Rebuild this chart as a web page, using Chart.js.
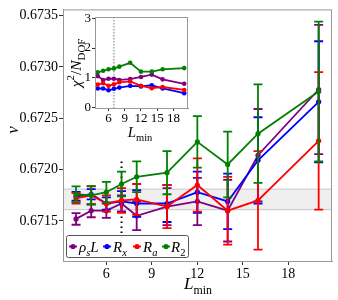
<!DOCTYPE html>
<html>
<head>
<meta charset="utf-8">
<script src="https://cdn.jsdelivr.net/npm/chart.js@4/dist/chart.umd.min.js"></script>
<style>
  body { margin: 0; background: #fff; }
  #wrap { position: relative; width: 338px; height: 300px; }
  #inset { position: absolute; left: 66px; top: 8px; }
</style>
</head>
<body>
<div id="wrap">
  <canvas id="main" width="338" height="300"></canvas>
  <canvas id="inset" width="126" height="138"></canvas>
</div>
<script>
  // L_min values shared by all series
  const lmin = [4, 5, 6, 7, 8, 10, 12, 14, 16, 20];

  // nu estimates and error bars
  const nuRhoL  = [0.67152, 0.67160, 0.67160, 0.67167, 0.67155, 0.67164, 0.67169, 0.67160, 0.67214, 0.67278];
  const errRhoL = [0.000057, 0.000064, 0.00007, 0.00008, 0.00014, 0.00018, 0.00023, 0.0003, 0.00045, 0.00063];
  const nuRx    = [0.67174, 0.67176, 0.67167, 0.67169, 0.67167, 0.67167, 0.67178, 0.67169, 0.67209, 0.67266];
  const errRx   = [0.000043, 0.00005, 0.00006, 0.0001, 0.00013, 0.00018, 0.0002, 0.00027, 0.00042, 0.00059];
  const nuRa    = [0.67172, 0.67175, 0.67167, 0.67170, 0.67171, 0.67164, 0.67185, 0.67160, 0.67170, 0.67228];
  const errRa   = [0.00005, 0.000088, 0.00008, 0.00012, 0.00015, 0.00021, 0.00026, 0.00033, 0.00048, 0.00067];
  const nuR2    = [0.67176, 0.67175, 0.67178, 0.67186, 0.67193, 0.67197, 0.67227, 0.67205, 0.67235, 0.67276];
  const errR2   = [0.000077, 0.00009, 0.0001, 0.00012, 0.00015, 0.00021, 0.00025, 0.00032, 0.00048, 0.00068];

  // chi^2 / N_DOF for the inset
  const chiRhoL = [1.05, 0.92, 0.96, 0.96, 0.92, 0.95, 1.02, 1.10, 0.94, 0.79];
  const chiRx   = [0.63, 0.63, 0.57, 0.62, 0.66, 0.72, 0.70, 0.74, 0.63, 0.47];
  const chiRa   = [0.76, 0.81, 0.72, 0.77, 0.84, 0.87, 0.72, 0.64, 0.68, 0.58];
  const chiR2   = [1.18, 1.23, 1.28, 1.31, 1.37, 1.50, 1.20, 1.20, 1.28, 1.32];

  // tick labels and reference markers
  const mainXTicks = [6, 9, 12, 15, 18];
  const mainYTicks = [0.6715, 0.6720, 0.6725, 0.6730, 0.6735];
  const insetXTicks = [6, 9, 12, 15, 18];
  const insetYTicks = [0, 1, 2, 3];
  const bandLow = 0.67161, bandHigh = 0.67181;
  const cutL = 7, cutTop = 0.67208;

  const colors = { rho: '#800080', rx: '#0000ff', ra: '#ff0000', r2: '#008000' };
  const FONT = '"Liberation Serif", "DejaVu Serif", serif';

  function pts(ys) { return lmin.map((x, i) => ({ x: x, y: ys[i] })); }

  // text with sub/superscripts: parts = [{t, it, sub, sup}]
  function partFont(p, size) {
    const s = (p.sub || p.sup) ? size * 0.7 : size;
    return (p.it ? 'italic ' : '') + s + 'px ' + FONT;
  }
  function richWidth(ctx, parts, size) {
    let w = 0;
    parts.forEach(p => { ctx.font = partFont(p, size); w += ctx.measureText(p.t).width; });
    return w;
  }
  function drawRich(ctx, parts, x, y, size, align) {
    const w = richWidth(ctx, parts, size);
    let cx = align === 'left' ? x : x - w / 2;
    ctx.textAlign = 'left';
    ctx.textBaseline = 'alphabetic';
    parts.forEach(p => {
      ctx.font = partFont(p, size);
      let dy = 0;
      if (p.sub) dy = size * 0.28;
      if (p.sup) dy = -size * 0.42;
      ctx.fillText(p.t, cx, y + dy);
      cx += ctx.measureText(p.t).width;
    });
  }

  const seriesMain = [
    { label: 'rho', ys: nuRhoL, err: errRhoL, color: colors.rho, order: 4 },
    { label: 'Rx', ys: nuRx, err: errRx, color: colors.rx, order: 3 },
    { label: 'Ra', ys: nuRa, err: errRa, color: colors.ra, order: 2 },
    { label: 'R2', ys: nuR2, err: errR2, color: colors.r2, order: 1 }
  ];

  const errorBars = {
    id: 'errorBars',
    beforeDatasetDraw(chart, args) {
      const ds = chart.data.datasets[args.index];
      if (!ds.errs) return;
      const ctx = chart.ctx, xs = chart.scales.x, ys = chart.scales.y;
      ctx.save();
      ctx.strokeStyle = ds.borderColor;
      ctx.lineWidth = 1.8;
      ds.data.forEach((p, i) => {
        const px = xs.getPixelForValue(p.x);
        const top = ys.getPixelForValue(p.y + ds.errs[i]);
        const bot = ys.getPixelForValue(p.y - ds.errs[i]);
        ctx.beginPath();
        ctx.moveTo(px, top); ctx.lineTo(px, bot);
        ctx.moveTo(px - 4.5, top); ctx.lineTo(px + 4.5, top);
        ctx.moveTo(px - 4.5, bot); ctx.lineTo(px + 4.5, bot);
        ctx.stroke();
      });
      ctx.restore();
    }
  };

  const mainDecor = {
    id: 'mainDecor',
    beforeDatasetsDraw(chart) {
      const ctx = chart.ctx, a = chart.chartArea, xs = chart.scales.x, ys = chart.scales.y;
      ctx.save();
      const y1 = ys.getPixelForValue(bandHigh), y2 = ys.getPixelForValue(bandLow);
      ctx.fillStyle = '#efefef';
      ctx.fillRect(a.left, y1, a.right - a.left, y2 - y1);
      ctx.strokeStyle = '#c8c8c8';
      ctx.lineWidth = 1;
      ctx.beginPath();
      ctx.moveTo(a.left, y1); ctx.lineTo(a.right, y1);
      ctx.moveTo(a.left, y2); ctx.lineTo(a.right, y2);
      ctx.stroke();
      // dotted L_min cut
      const cx = xs.getPixelForValue(cutL);
      ctx.strokeStyle = '#000';
      ctx.lineWidth = 2;
      ctx.setLineDash([1.5, 3.5]);
      ctx.beginPath();
      ctx.moveTo(cx, ys.getPixelForValue(cutTop)); ctx.lineTo(cx, a.bottom);
      ctx.stroke();
      ctx.restore();
    },
    afterDraw(chart) {
      const ctx = chart.ctx, a = chart.chartArea;
      ctx.save();
      ctx.strokeStyle = '#999';
      ctx.lineWidth = 1;
      ctx.strokeRect(a.left + 0.5, a.top + 0.5, a.right - a.left - 1, a.bottom - a.top);
      ctx.fillStyle = '#000';
      // axis titles
      drawRich(ctx, [{ t: 'L', it: true }, { t: 'min', sub: true }], 198, 289, 17, 'center');
      ctx.save();
      ctx.translate(13, 130);
      ctx.rotate(-Math.PI / 2);
      drawRich(ctx, [{ t: 'ν', it: true }], 0, 5, 17, 'center');
      ctx.restore();
      // legend
      const lx = 66, ly = 235, lw = 122, lh = 22;
      ctx.fillStyle = 'rgba(255,255,255,0.9)';
      ctx.strokeStyle = '#555';
      ctx.beginPath();
      ctx.roundRect(lx + 0.5, ly + 0.5, lw, lh, 2);
      ctx.fill(); ctx.stroke();
      const items = [
        { c: colors.rho, mx: 73, tx: 79, parts: [{ t: 'ρ', it: true }, { t: 's', it: true, sub: true }, { t: 'L', it: true }] },
        { c: colors.rx, mx: 107, tx: 113, parts: [{ t: 'R', it: true }, { t: 'x', it: true, sub: true }] },
        { c: colors.ra, mx: 137, tx: 143, parts: [{ t: 'R', it: true }, { t: 'a', it: true, sub: true }] },
        { c: colors.r2, mx: 166, tx: 171, parts: [{ t: 'R', it: true }, { t: '2', sub: true }] }
      ];
      items.forEach(it => {
        ctx.strokeStyle = it.c; ctx.fillStyle = it.c; ctx.lineWidth = 1.8;
        ctx.beginPath(); ctx.moveTo(it.mx - 4, ly + 11.5); ctx.lineTo(it.mx + 4, ly + 11.5); ctx.stroke();
        ctx.beginPath(); ctx.arc(it.mx, ly + 11.5, 2.6, 0, Math.PI * 2); ctx.fill();
        ctx.fillStyle = '#000';
        drawRich(ctx, it.parts, it.tx, ly + 16.5, 15, 'left');
      });
      ctx.restore();
    }
  };

  new Chart(document.getElementById('main'), {
    type: 'line',
    data: {
      datasets: seriesMain.map(s => ({
        label: s.label,
        data: pts(s.ys),
        errs: s.err,
        borderColor: s.color,
        backgroundColor: s.color,
        borderWidth: 1.8,
        pointRadius: 2.6,
        pointBorderWidth: 0,
        order: s.order,
        tension: 0
      }))
    },
    options: {
      responsive: false,
      animation: false,
      layout: { padding: { top: 5, right: 6, left: 0, bottom: 0 } },
      plugins: { legend: { display: false }, tooltip: { enabled: false } },
      scales: {
        x: {
          type: 'linear', min: 3.14, max: 20.88,
          afterBuildTicks: s => { s.ticks = mainXTicks.map(v => ({ value: v })); },
          afterFit: s => { s.height = 39; },
          ticks: { font: { family: FONT, size: 14 }, color: '#000', padding: 1, maxRotation: 0 },
          grid: { drawOnChartArea: false, tickLength: 4, tickColor: '#333' },
          border: { color: '#999' }
        },
        y: {
          type: 'linear', min: 0.67111, max: 0.67356,
          afterBuildTicks: s => { s.ticks = mainYTicks.map(v => ({ value: v })); },
          afterFit: s => { s.width = 63; },
          ticks: { font: { family: FONT, size: 14 }, color: '#000', padding: 1, callback: v => v.toFixed(4) },
          grid: { drawOnChartArea: false, tickLength: 4, tickColor: '#333' },
          border: { color: '#999' }
        }
      }
    },
    plugins: [errorBars, mainDecor]
  });

  const seriesInset = [
    { ys: chiRhoL, color: colors.rho, order: 4 },
    { ys: chiRx, color: colors.rx, order: 3 },
    { ys: chiRa, color: colors.ra, order: 2 },
    { ys: chiR2, color: colors.r2, order: 1 }
  ];

  const insetDecor = {
    id: 'insetDecor',
    beforeDatasetsDraw(chart) {
      const ctx = chart.ctx, a = chart.chartArea;
      ctx.save();
      ctx.fillStyle = '#fff';
      ctx.fillRect(a.left, a.top, a.right - a.left, a.bottom - a.top);
      const cx = chart.scales.x.getPixelForValue(cutL);
      ctx.strokeStyle = '#777';
      ctx.lineWidth = 1;
      ctx.setLineDash([1.5, 1.5]);
      ctx.beginPath(); ctx.moveTo(cx, a.top); ctx.lineTo(cx, a.bottom); ctx.stroke();
      ctx.restore();
    },
    afterDraw(chart) {
      const ctx = chart.ctx, a = chart.chartArea;
      ctx.save();
      ctx.strokeStyle = '#999';
      ctx.lineWidth = 1;
      ctx.strokeRect(a.left + 0.5, a.top + 0.5, a.right - a.left - 1, a.bottom - a.top);
      ctx.fillStyle = '#000';
      drawRich(ctx, [{ t: 'L', it: true }, { t: 'min', sub: true }], 74, 129, 15, 'center');
      ctx.save();
      ctx.translate(10, 55);
      ctx.rotate(-Math.PI / 2);
      drawRich(ctx, [{ t: 'χ', it: true }, { t: '2', sup: true }, { t: '/' }, { t: 'N', it: true }, { t: 'DOF', sub: true }], 0, 5, 15.5, 'center');
      ctx.restore();
      ctx.restore();
    }
  };

  new Chart(document.getElementById('inset'), {
    type: 'line',
    data: {
      datasets: seriesInset.map(s => ({
        data: pts(s.ys),
        borderColor: s.color,
        backgroundColor: s.color,
        borderWidth: 1.8,
        pointRadius: 2.3,
        pointBorderWidth: 0,
        order: s.order,
        tension: 0
      }))
    },
    options: {
      responsive: false,
      animation: false,
      layout: { padding: { top: 9, right: 4, left: 0, bottom: 0 } },
      plugins: { legend: { display: false }, tooltip: { enabled: false } },
      scales: {
        x: {
          type: 'linear', min: 3.5, max: 20.7,
          afterBuildTicks: s => { s.ticks = insetXTicks.map(v => ({ value: v })); },
          afterFit: s => { s.height = 38; },
          ticks: { font: { family: FONT, size: 13 }, color: '#000', padding: 0, maxRotation: 0, autoSkip: false },
          grid: { drawOnChartArea: false, tickLength: 3, tickColor: '#333' },
          border: { color: '#999' }
        },
        y: {
          type: 'linear', min: -0.03, max: 3.05,
          afterBuildTicks: s => { s.ticks = insetYTicks.map(v => ({ value: v })); },
          afterFit: s => { s.width = 29; },
          ticks: { font: { family: FONT, size: 13 }, color: '#000', padding: 1 },
          grid: { drawOnChartArea: false, tickLength: 3, tickColor: '#333' },
          border: { color: '#999' }
        }
      }
    },
    plugins: [insetDecor]
  });
</script>
</body>
</html>
